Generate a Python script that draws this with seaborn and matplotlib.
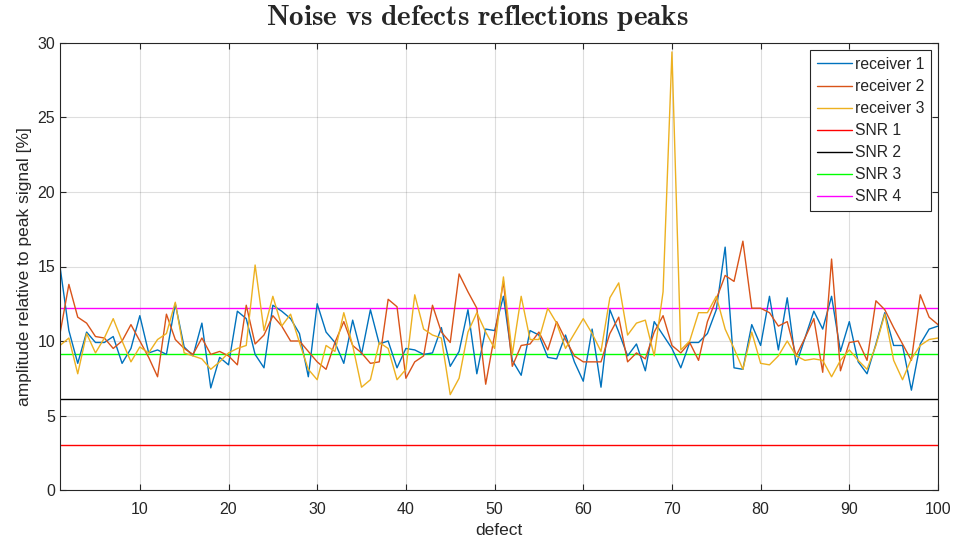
import numpy as np
import pandas as pd
import matplotlib
matplotlib.use("Agg")
import matplotlib.pyplot as plt
import seaborn as sns

defect = list(range(1, 101))
receiver_1 = [15.0, 10.7, 8.5, 10.6, 9.9, 9.9, 10.3, 8.5, 9.5, 11.7,
              9.2, 9.4, 9.1, 12.5, 9.6, 9.0, 11.2, 6.85, 8.9, 8.4,
              12.0, 11.5, 9.1, 8.2, 12.4, 12.0, 11.5, 10.5, 7.6, 12.5,
              10.6, 9.9, 8.5, 11.4, 9.1, 12.1, 9.8, 10.0, 8.2, 9.5,
              9.4, 9.1, 9.2, 10.9, 8.3, 9.3, 12.1, 7.8, 10.8, 10.7,
              13.0, 8.7, 7.7, 10.7, 10.4, 8.9, 8.8, 10.4, 8.6, 7.3,
              10.8, 6.9, 12.1, 10.6, 9.0, 9.8, 8.0, 11.3, 10.4, 9.5,
              8.2, 9.9, 9.9, 10.5, 12.1, 16.3, 8.2, 8.1, 11.1, 9.7,
              13.0, 9.4, 12.9, 8.4, 10.2, 12.0, 10.8, 13.0, 9.3, 11.3,
              8.6, 7.8, 9.8, 11.9, 9.7, 9.7, 6.7, 9.8, 10.8, 11.0]
receiver_2 = [10.5, 13.8, 11.6, 11.2, 10.3, 10.2, 9.5, 10.0, 11.1, 10.0,
              8.9, 7.6, 11.8, 10.1, 9.5, 9.1, 10.2, 9.1, 9.3, 9.0,
              8.4, 12.4, 9.8, 10.4, 11.7, 11.0, 10.0, 10.0, 9.3, 8.6,
              8.1, 9.9, 11.3, 9.7, 9.2, 8.5, 8.6, 12.8, 12.3, 7.5,
              8.6, 9.0, 12.4, 10.6, 9.9, 14.5, 13.3, 12.2, 7.1, 10.4,
              14.0, 8.3, 9.7, 9.8, 10.6, 9.4, 11.3, 10.1, 9.0, 8.6,
              8.6, 8.6, 10.5, 11.6, 8.6, 9.2, 8.8, 10.6, 11.7, 9.7,
              9.2, 9.9, 8.7, 11.3, 12.8, 14.4, 14.0, 16.7, 12.2, 12.2,
              11.9, 11.0, 11.3, 9.0, 10.2, 11.5, 7.9, 15.5, 8.0, 9.9,
              10.0, 8.7, 12.7, 12.1, 10.9, 9.8, 8.7, 13.1, 11.6, 11.1]
receiver_3 = [9.7, 10.2, 7.8, 10.5, 9.2, 10.2, 11.5, 10.0, 8.6, 9.6,
              9.2, 10.1, 10.5, 12.6, 9.2, 9.0, 8.8, 8.1, 8.6, 9.2,
              9.5, 9.7, 15.1, 10.7, 13.0, 11.0, 11.8, 9.9, 8.1, 7.4,
              9.7, 9.3, 11.9, 9.7, 6.9, 7.4, 9.9, 9.5, 7.4, 8.1,
              13.1, 10.8, 10.4, 10.2, 6.4, 7.5, 10.6, 11.9, 10.6, 9.5,
              14.3, 9.1, 13.0, 10.1, 10.1, 12.2, 11.2, 9.5, 10.5, 11.5,
              10.5, 9.3, 12.9, 13.9, 10.4, 11.2, 11.4, 9.0, 13.3, 29.4,
              9.4, 10.0, 11.9, 11.9, 13.0, 10.8, 9.5, 8.1, 10.6, 8.5,
              8.4, 9.0, 10.0, 9.0, 8.7, 8.8, 8.7, 7.6, 8.7, 9.4,
              8.7, 8.1, 9.7, 11.8, 8.7, 7.4, 8.8, 9.7, 10.1, 10.2]
snr_labels = ["SNR 1", "SNR 2", "SNR 3", "SNR 4"]
snr_values = [3.05, 6.1, 9.15, 12.2]
x_ticks = [10, 20, 30, 40, 50, 60, 70, 80, 90, 100]
y_ticks = [0, 5, 10, 15, 20, 25, 30]

sns.set_theme(style="white")
plt.rcParams['font.family'] = ['Liberation Sans', 'DejaVu Sans']
plt.rcParams['mathtext.fontset'] = 'cm'

df = pd.DataFrame({
    "defect": defect * 3,
    "value": receiver_1 + receiver_2 + receiver_3,
    "series": ["receiver 1"] * 100 + ["receiver 2"] * 100 + ["receiver 3"] * 100,
})

fig = plt.figure(figsize=(9.54, 5.42), dpi=100)
ax = fig.add_axes([60 / 954, 1 - 490 / 542, 878 / 954, 447 / 542])

palette = {"receiver 1": "#0072BD", "receiver 2": "#D95319", "receiver 3": "#EDB120"}
sns.lineplot(data=df, x="defect", y="value", hue="series", palette=palette,
             linewidth=1.0, ax=ax, legend=False, estimator=None)

snr_colors = ["#FF0000", "#000000", "#00FF00", "#FF00FF"]
for lab, v, c in zip(snr_labels, snr_values, snr_colors):
    ax.axhline(v, color=c, linewidth=1.0, zorder=1.5)

handles = [plt.Line2D([], [], color=palette[s], lw=1.0) for s in ["receiver 1", "receiver 2", "receiver 3"]]
handles += [plt.Line2D([], [], color=c, lw=1.0) for c in snr_colors]
labels = ["receiver 1", "receiver 2", "receiver 3"] + snr_labels
leg = ax.legend(handles, labels, loc="upper right", bbox_to_anchor=(0.9925, 0.9845),
                fontsize=11.3, frameon=True, fancybox=False, framealpha=1,
                handlelength=2.2, handletextpad=0.2, borderpad=0.45, labelspacing=0.45,
                borderaxespad=0)
leg.get_frame().set_edgecolor("#262626")
leg.get_frame().set_linewidth(0.8)

ax.set_xlim(1, 100)
ax.set_ylim(0, 30)
ax.set_xticks(x_ticks)
ax.set_yticks(y_ticks)
ax.grid(True, color="#262626", alpha=0.15, linewidth=0.8)
ax.set_axisbelow(True)
ax.tick_params(direction="in", length=4, top=True, right=True, bottom=True, left=True,
               labelsize=11.5, colors="#262626", width=0.8)
ax.tick_params(axis="x", pad=9)
for s in ax.spines.values():
    s.set_color("#262626")
    s.set_linewidth(0.8)
    s.set_visible(True)
ax.set_xlabel("defect", fontsize=12.5, color="#262626", labelpad=4)
ax.set_ylabel("amplitude relative to peak signal [%]", fontsize=12.5, color="#262626", labelpad=4)
fig.text(0.5, 1 - 18 / 542,
         r"$\mathbf{Noise\ vs\ defects\ reflections\ peaks}$",
         fontsize=21, ha="center", va="center")

fig.savefig("out.png", dpi=100)
